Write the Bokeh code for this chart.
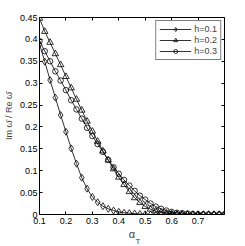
from bokeh.plotting import figure
from bokeh.models import Range1d, FixedTicker, LinearAxis, Title, Legend
from bokeh.embed import file_html
from bokeh.resources import INLINE

alpha_T = [0.10, 0.12, 0.14, 0.16, 0.18, 0.20, 0.22, 0.24, 0.26, 0.28,
           0.30, 0.32, 0.34, 0.36, 0.38, 0.40, 0.42, 0.44, 0.46, 0.48,
           0.50, 0.52, 0.54, 0.56, 0.58, 0.60, 0.62, 0.64, 0.66, 0.68,
           0.70, 0.72, 0.74, 0.76, 0.78, 0.80]

h01 = [0.389, 0.349, 0.307, 0.267, 0.227, 0.189, 0.151, 0.116, 0.084, 0.059,
       0.040, 0.028, 0.019, 0.013, 0.009, 0.006, 0.004, 0.003, 0.002, 0.001,
       0.0005, 0.0, 0.0, 0.0, 0.0, 0.0, 0.0, 0.0, 0.0, 0.0,
       0.0, 0.0, 0.0, 0.0, 0.0, 0.0]

h02 = [0.448, 0.418, 0.393, 0.367, 0.342, 0.315, 0.289, 0.263, 0.238, 0.213,
       0.190, 0.167, 0.145, 0.124, 0.104, 0.085, 0.068, 0.052, 0.038, 0.027,
       0.018, 0.012, 0.008, 0.005, 0.003, 0.002, 0.001, 0.0005, 0.0, 0.0,
       0.0, 0.0, 0.0, 0.0, 0.0, 0.0]

h03 = [0.396, 0.373, 0.350, 0.327, 0.306, 0.284, 0.261, 0.240, 0.219, 0.198,
       0.179, 0.161, 0.143, 0.125, 0.108, 0.093, 0.079, 0.066, 0.054, 0.043,
       0.034, 0.025, 0.018, 0.013, 0.009, 0.006, 0.004, 0.003, 0.002, 0.001,
       0.0005, 0.0, 0.0, 0.0, 0.0, 0.0]

series_labels = ["h=0.1", "h=0.2", "h=0.3"]

x_ticks = [0.1, 0.2, 0.3, 0.4, 0.5, 0.6, 0.7]
x_tick_labels = ["0.1", "0.2", "0.3", "0.4", "0.5", "0.6", "0.7"]
y_ticks = [0.0, 0.05, 0.1, 0.15, 0.2, 0.25, 0.3, 0.35, 0.4, 0.45]
y_tick_labels = ["0", "0.05", "0.1", "0.15", "0.2", "0.25", "0.3", "0.35", "0.4", "0.45"]

FONT = "Liberation Sans"

p = figure(frame_width=185, frame_height=197, output_backend="svg",
           toolbar_location=None,
           x_range=Range1d(0.1, 0.8), y_range=Range1d(0, 0.45),
           min_border_left=36, min_border_right=22, min_border_top=17,
           min_border_bottom=30)
p.background_fill_color = "white"
p.border_fill_color = "white"
p.outline_line_color = "black"
p.outline_line_width = 1
p.xgrid.visible = False
p.ygrid.visible = False

for ax in (p.xaxis[0], p.yaxis[0]):
    ax.axis_line_color = None
    ax.major_tick_in = 3
    ax.major_tick_out = 0
    ax.minor_tick_line_color = None
    ax.major_tick_line_color = "black"
    ax.major_label_text_font = FONT
    ax.major_label_text_font_size = "9px"
    ax.major_label_text_color = "black"

p.xaxis[0].major_label_standoff = 3
p.yaxis[0].major_label_standoff = 2

p.xaxis[0].ticker = FixedTicker(ticks=x_ticks)
p.xaxis[0].major_label_overrides = dict(zip(x_ticks, x_tick_labels))
p.yaxis[0].ticker = FixedTicker(ticks=y_ticks)
p.yaxis[0].major_label_overrides = dict(zip(y_ticks, y_tick_labels))

p.yaxis[0].axis_label = "Im ω\u0304 / Re ω\u0304"
p.yaxis[0].axis_label_text_font = FONT
p.yaxis[0].axis_label_text_font_size = "9px"
p.yaxis[0].axis_label_text_font_style = "normal"
p.yaxis[0].axis_label_standoff = 3

p.xaxis[0].axis_label = "α"
p.xaxis[0].axis_label_text_font = FONT
p.xaxis[0].axis_label_text_font_size = "11px"
p.xaxis[0].axis_label_text_font_style = "normal"
p.xaxis[0].axis_label_standoff = 1

for loc, tick in (("above", x_ticks), ("right", y_ticks)):
    ax = LinearAxis(ticker=FixedTicker(ticks=tick), axis_line_color=None,
                    major_tick_in=3, major_tick_out=0,
                    minor_tick_line_color=None,
                    major_label_text_font_size="0px",
                    major_label_standoff=0)
    p.add_layout(ax, loc)

markers = ["diamond", "triangle", "circle"]
sizes = [7, 6.5, 5.5]
items = []
for ys, lab, mk, sz in zip([h01, h02, h03], series_labels, markers, sizes):
    l = p.line(alpha_T, ys, line_color="black", line_width=0.8)
    s = p.scatter(alpha_T, ys, marker=mk, size=sz, fill_color=None,
                  line_color="black", line_width=0.8)
    items.append((lab, [l, s]))

leg = Legend(items=items, location="top_right")
leg.label_text_font = FONT
leg.label_text_font_size = "9px"
leg.glyph_width = 32
leg.glyph_height = 10
leg.label_height = 10
leg.spacing = 1
leg.padding = 3
leg.margin = 3
leg.label_standoff = 3
leg.border_line_color = "black"
leg.border_line_width = 1
leg.background_fill_alpha = 1
p.add_layout(leg)

sub = Title(text="T", align="left", offset=96, standoff=-12,
            vertical_align="top",
            text_font=FONT, text_font_size="8px", text_font_style="normal")
p.add_layout(sub, "below")

open("out.html", "w").write(file_html(p, INLINE))
